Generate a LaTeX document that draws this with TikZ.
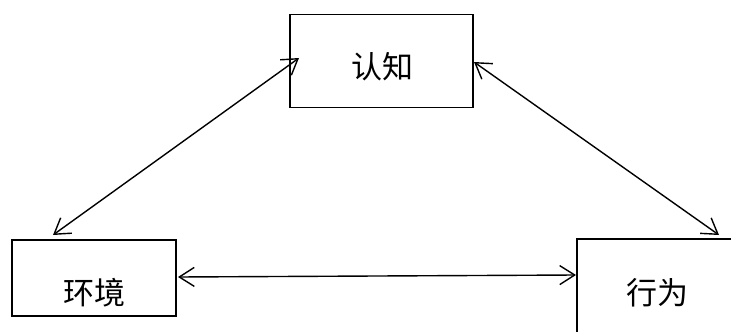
\documentclass[tikz,border=0pt]{standalone}
\usepackage{fontspec}
\newfontfamily\cjk{Noto Sans CJK SC}
\usetikzlibrary{arrows.meta}
\begin{document}
\begin{tikzpicture}[x=1pt,y=-1pt,
  box/.style={draw=black, line width=1.6pt, rectangle, inner sep=0pt, outer sep=0pt},
  lbl/.style={font=\cjk\fontsize{31}{31}\selectfont, inner sep=0pt},
  conn/.style={line width=1.4pt, {Straight Barb[length=15pt,width=19pt,line width=1.4pt]}-{Straight Barb[length=15pt,width=19pt,line width=1.4pt]}}]
\useasboundingbox (0,0) rectangle (731,332);
\clip (0,0) rectangle (731,332);
\fill[white] (0,0) rectangle (731,332);
\node[box, minimum width=183pt, minimum height=93pt] (ren) at (381.5,61) {};
\node[box, minimum width=164pt, minimum height=76pt] (huan) at (94,278) {};
\node[box, minimum width=168pt, minimum height=106pt] (xing) at (661,292) {};
\node[lbl] (tren) at (382,67) {认知};
\node[lbl] (thuan) at (94,293) {环境};
\node[lbl] (txing) at (657,293) {行为};
\coordinate (a1) at (299,58);
\coordinate (a2) at (53,235);
\coordinate (b1) at (474,62);
\coordinate (b2) at (719,235);
\coordinate (c1) at (178,277);
\coordinate (c2) at (576,275);
\draw[conn] (a1) -- (a2);
\draw[conn] (b1) -- (b2);
\draw[conn] (c1) -- (c2);
\end{tikzpicture}
\end{document}
